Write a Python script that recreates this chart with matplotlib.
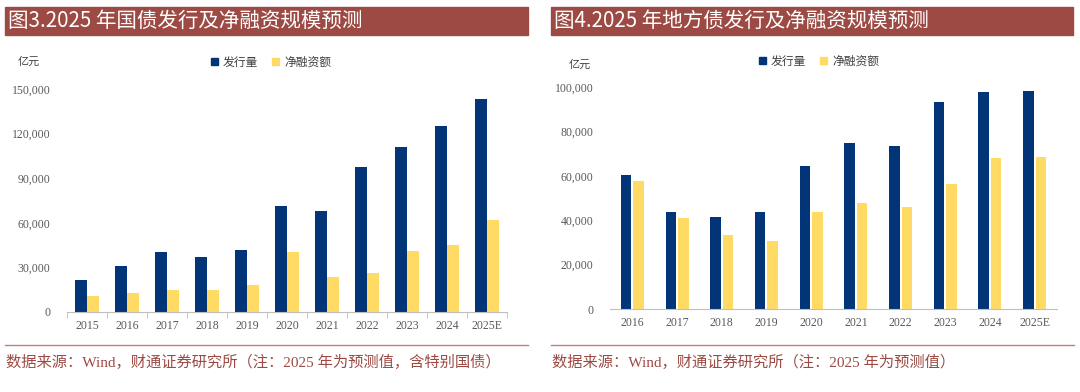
import matplotlib
matplotlib.use('Agg')
import matplotlib.pyplot as plt
from matplotlib.patches import Rectangle
from matplotlib.lines import Line2D
from matplotlib.ticker import FuncFormatter
import numpy as np

plt.rcParams['font.family'] = ['Liberation Serif', 'Noto Sans CJK SC']

# 图3 国债
gov_years = ['2015', '2016', '2017', '2018', '2019', '2020', '2021', '2022', '2023', '2024', '2025E']
gov_issue = [21500, 30900, 40100, 36800, 41700, 71500, 68100, 97500, 110800, 125100, 143000]
gov_net = [10800, 13000, 15000, 14600, 18000, 40500, 23500, 26000, 41200, 45000, 61900]

# 图4 地方债
loc_years = ['2016', '2017', '2018', '2019', '2020', '2021', '2022', '2023', '2024', '2025E']
loc_issue = [60300, 43600, 41500, 43600, 64500, 74600, 73500, 93100, 97600, 98200]
loc_net = [57800, 41200, 33400, 30500, 43700, 47900, 45800, 56400, 67800, 68400]

titles = ['图3.2025 年国债发行及净融资规模预测', '图4.2025 年地方债发行及净融资规模预测']
notes = ['数据来源：Wind，财通证券研究所（注：2025 年为预测值，含特别国债）',
         '数据来源：Wind，财通证券研究所（注：2025 年为预测值）']
series_names = ['发行量', '净融资额']

BLUE = '#013577'
YELLOW = '#FFDA65'
RED = '#9C4A43'
GREY = '#595959'
CJK = ['Noto Sans CJK SC', 'DejaVu Sans']

W, H = 1080, 392
fig = plt.figure(figsize=(W / 100, H / 100), dpi=100)


def px(x0, y0, x1, y1):
    # 像素坐标 -> figure 坐标
    return [x0 / W, 1 - y1 / H, (x1 - x0) / W, (y1 - y0) / H]


def panel(rect, bar_w, off, years, issue, net, ymax, ystep, title, note,
          title_box, note_box, unit_xy, leg_xy, tickmarks):
    ax = fig.add_axes(px(*rect))
    x = np.arange(len(years))
    ax.bar(x - off, issue, width=bar_w, color=BLUE, zorder=2)
    ax.bar(x + off, net, width=bar_w, color=YELLOW, zorder=2)
    ax.set_xlim(-0.5, len(years) - 0.5)
    ax.set_ylim(0, ymax)
    ax.set_yticks(np.arange(0, ymax + 1, ystep))
    ax.yaxis.set_major_formatter(FuncFormatter(lambda v, p: f'{int(v):,}'))
    ax.set_xticks(x)
    ax.set_xticklabels(years)
    for s in ['top', 'right', 'left']:
        ax.spines[s].set_visible(False)
    ax.spines['bottom'].set_color('#BFBFBF')
    ax.tick_params(axis='y', length=0, labelsize=8.5, labelcolor=GREY, pad=12)
    ax.tick_params(axis='x', length=0, labelsize=8.5, labelcolor=GREY, pad=6)
    if tickmarks:
        ax.set_xticks(np.arange(-0.5, len(years)), minor=True)
        ax.tick_params(axis='x', which='minor', length=4, color='#BFBFBF')

    # 标题栏
    x0, y0, x1, y1 = title_box
    fig.patches.append(Rectangle((x0 / W, 1 - y1 / H), (x1 - x0) / W, (y1 - y0) / H,
                                 transform=fig.transFigure, color=RED))
    fig.text((x0 + 3) / W, 1 - (y0 + y1) / 2 / H, title, color='white', fontsize=14.8,
             family=CJK, va='center', ha='left')

    # 来源
    nx0, nx1, ny = note_box
    fig.lines.append(Line2D([nx0 / W, nx1 / W], [1 - ny / H, 1 - ny / H],
                            transform=fig.transFigure, color='#C0807A', lw=1))
    fig.text((nx0 + 1) / W, 1 - (ny + 17) / H, note, color=RED, fontsize=11, va='center', ha='left')

    fig.text(unit_xy[0] / W, 1 - unit_xy[1] / H, '亿元', fontsize=8, color='#404040',
             family=CJK, va='center')

    lx, ly = leg_xy
    handles = [Rectangle((0, 0), 1, 1, color=BLUE), Rectangle((0, 0), 1, 1, color=YELLOW)]
    fig.legend(handles, series_names, loc='center left', bbox_to_anchor=(lx / W, 1 - ly / H),
               ncol=2, frameon=False, prop={'family': CJK, 'size': 8.5}, handlelength=0.6,
               handleheight=0.6, handletextpad=0.4, columnspacing=1.2, labelcolor='#404040',
               borderaxespad=0, borderpad=0)
    return ax


panel((67, 89, 507, 312), 0.29, 0.145, gov_years, gov_issue, gov_net, 150000, 30000,
      titles[0], notes[0], (5, 7, 528, 35), (5, 528, 345), (18, 62), (211, 62), True)
panel((610, 87, 1057, 309), 0.235, 0.14, loc_years, loc_issue, loc_net, 100000, 20000,
      titles[1], notes[1], (551, 7, 1073, 35), (551, 1074, 345), (569, 65), (759, 61), False)

fig.savefig('out.png', dpi=100)
